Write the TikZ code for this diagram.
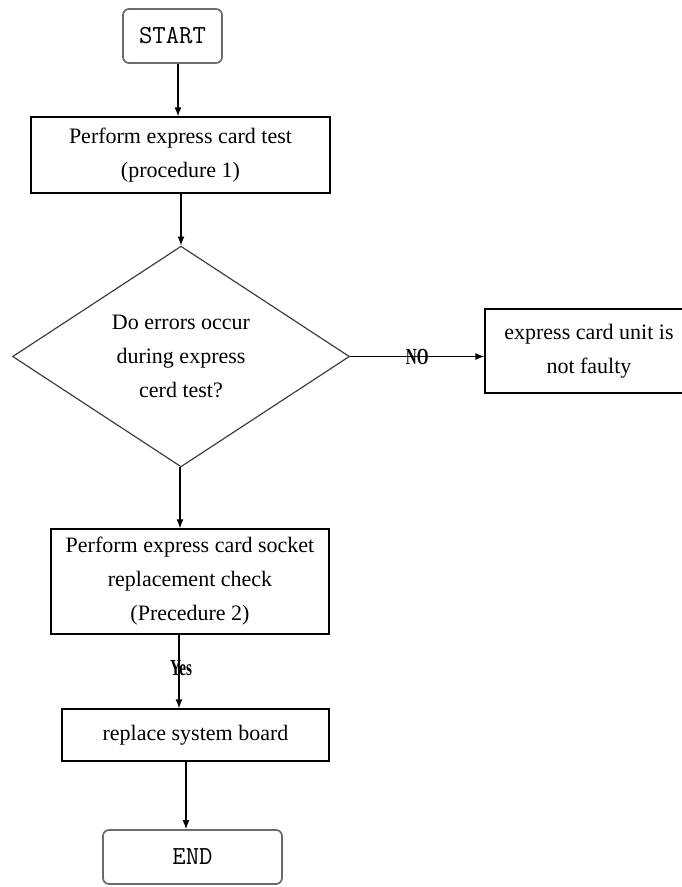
\documentclass[tikz,border=0pt]{standalone}
\usepackage{fontspec}
\setmainfont{Liberation Serif}
\usetikzlibrary{shapes.geometric,arrows.meta}

\tikzset{
  every node/.style={font=\fontsize{22pt}{34pt}\selectfont, text=black},
  procbox/.style={draw=black, line width=1.2pt, rectangle, align=center, inner sep=0pt},
  termbox/.style={draw=black!58, line width=1.7pt, rectangle, rounded corners=6pt,
                  inner sep=0pt, font=\ttfamily\fontsize{26pt}{30pt}\selectfont},
  decision/.style={draw=black!75, line width=1.2pt, diamond, align=center, inner sep=0pt},
  arr/.style={draw=black, line width=1.2pt, -{Latex[length=9pt,width=7pt]}},
  edgelabel/.style={font=\bfseries\fontsize{23pt}{25pt}\selectfont, inner sep=0pt}
}
\newcommand{\narrowlabel}[1]{\scalebox{0.66}[1]{#1}}

\begin{document}
\begin{tikzpicture}[x=1pt, y=-1pt]
  \clip (0,0) rectangle (682,887);
  \fill[white] (0,0) rectangle (682,887);

  % terminals
  \node[termbox, minimum width=99pt, minimum height=54pt] (start) at (172.5,36) {START};
  \node[termbox, minimum width=179pt, minimum height=54pt] (finish) at (192.5,857) {END};

  % process steps
  \node[procbox, minimum width=299pt, minimum height=76pt] (test) at (180.5,155)
    {Perform express card test\\(procedure 1)};
  \node[decision, minimum width=337pt, minimum height=207pt] (decide) at (181,356.5)
    {Do errors occur\\during express\\cerd test?};
  \node[procbox, minimum width=208pt, minimum height=84pt] (ok) at (589,351)
    {express card unit is\\not faulty};
  \node[procbox, minimum width=278pt, minimum height=105pt] (socket) at (190,581.5)
    {Perform express card socket\\replacement check\\(Precedure 2)};
  \node[procbox, minimum width=267pt, minimum height=52pt] (board) at (195.5,735)
    {replace system board};

  % connectors
  \draw[arr] ([xshift=5.5pt]start.south) -- ([xshift=5.5pt]start.south |- test.north);
  \draw[arr] (decide.north |- test.south) -- (decide.north);
  \draw[arr] (decide.east) -- (decide.east -| ok.west)
    node[edgelabel, pos=0.5] {\narrowlabel{NO}};
  \draw[arr] ([xshift=-1pt]decide.south) -- ([xshift=-1pt]decide.south |- socket.north);
  \draw[arr] ([xshift=-11pt]socket.south) -- ([xshift=-11pt]socket.south |- board.north)
    node[edgelabel, pos=0.45, xshift=2pt] {\narrowlabel{Yes}};
  \draw[arr] ([xshift=-9.5pt]board.south) -- ([xshift=-9.5pt]board.south |- finish.north);
\end{tikzpicture}
\end{document}
